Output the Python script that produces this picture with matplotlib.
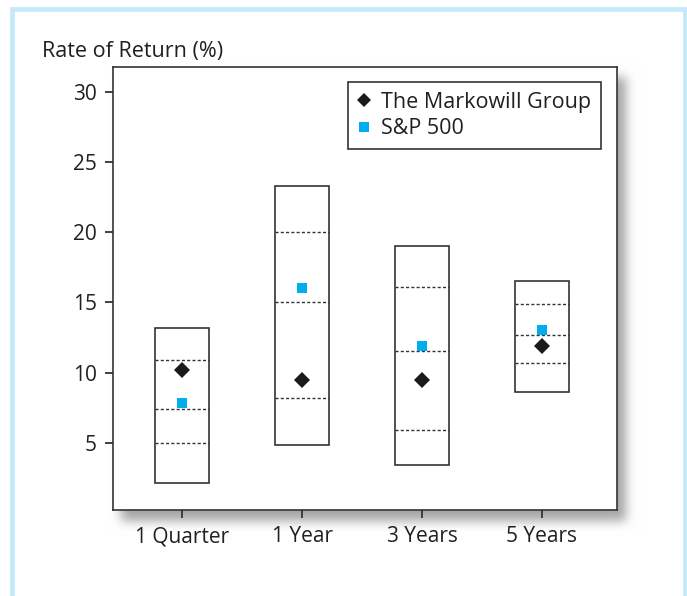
import numpy as np
import matplotlib.pyplot as plt
from matplotlib.patches import Rectangle
from matplotlib.lines import Line2D

# data
periods = ['1 Quarter', '1 Year', '3 Years', '5 Years']
box_low = [2.1, 4.8, 3.4, 8.6]
box_high = [13.2, 23.3, 19.0, 16.5]
q1 = [5.0, 8.2, 5.9, 10.7]
q2 = [7.4, 15.05, 11.55, 12.7]
q3 = [10.9, 20.0, 16.1, 14.9]
markowill = [10.2, 9.5, 9.5, 11.9]
sp500 = [7.85, 16.05, 11.9, 13.0]

plt.rcParams['font.family'] = ['Open Sans', 'DejaVu Sans']
TXT = '#231f20'
EDGE = '#333333'
BLUE = '#00aeef'

W, H = 687, 596
fig = plt.figure(figsize=(W / 100, H / 100), dpi=100)

# axes placement in pixels
ax_l, ax_r, ax_t, ax_b = 113, 617, 67, 510
ax = fig.add_axes([ax_l / W, 1 - ax_b / H, (ax_r - ax_l) / W, (ax_b - ax_t) / H])
ax.set_zorder(3)
ax.set_facecolor('white')

# soft drop shadow behind the axes
yy, xx = np.mgrid[0:H, 0:W]
mask = ((xx >= ax_l + 8) & (xx <= ax_r + 8) & (yy >= ax_t + 10) & (yy <= ax_b + 10)).astype(float)
k = np.ones(9) / 9
for _ in range(4):
    mask = np.apply_along_axis(lambda r: np.convolve(r, k, mode='same'), 1, mask)
    mask = np.apply_along_axis(lambda c: np.convolve(c, k, mode='same'), 0, mask)
shadow = np.ones((H, W, 3)) - mask[..., None] * 0.35
fig.figimage(shadow[::-1], xo=0, yo=0, origin='lower', zorder=0)

# light blue frame round the figure
fig.patches.append(Rectangle((12 / W, -0.05), (684.5 - 12) / W, 1.05 - 8.5 / H,
                             transform=fig.transFigure, fill=False,
                             edgecolor='#c6e8f8', lw=3.4, zorder=1))

x = np.arange(len(periods))
bw = 0.45
for i in range(len(periods)):
    ax.add_patch(Rectangle((x[i] - bw / 2, box_low[i]), bw, box_high[i] - box_low[i],
                           fill=False, edgecolor=EDGE, lw=1.2, zorder=2))
    for q in (q1[i], q2[i], q3[i]):
        ax.plot([x[i] - bw / 2, x[i] + bw / 2], [q, q], color=EDGE, lw=1.0,
                ls=(0, (2.2, 1.6)), zorder=2)

ax.plot(x, markowill, ls='none', marker='D', ms=8, color='#1a1a1a', mew=0, zorder=3)
ax.plot(x, sp500, ls='none', marker='s', ms=7.5, color=BLUE, mew=0, zorder=3)

ax.set_xlim(-0.575, 3.625)
ax.set_ylim(0.19, 31.8)
ax.set_yticks([5, 10, 15, 20, 25, 30])
ax.set_xticks(x)
ax.set_xticklabels(periods)
ax.tick_params(axis='both', direction='out', length=5.8, width=1.3, pad=5.8,
               colors=EDGE, labelcolor=TXT, labelsize=15)
for s in ax.spines.values():
    s.set_color(EDGE)
    s.set_linewidth(1.2)

fig.text(42 / W, 1 - 52 / H, 'Rate of Return (%)', fontsize=15.5, color=TXT, va='center', ha='left')

handles = [Line2D([], [], ls='none', marker='D', ms=7.5, color='#1a1a1a', mew=0),
           Line2D([], [], ls='none', marker='s', ms=7.5, color=BLUE, mew=0)]
leg = ax.legend(handles, ['The Markowill Group', 'S&P 500'], loc='upper right',
                bbox_to_anchor=((601 - ax_l) / (ax_r - ax_l), (ax_b - 82) / (ax_b - ax_t)),
                borderaxespad=0, fancybox=False, framealpha=1, edgecolor=EDGE,
                fontsize=15.5, handlelength=0.6, handletextpad=0.5, labelspacing=0.25,
                borderpad=0.45)
leg.get_frame().set_linewidth(1.2)
for t in leg.get_texts():
    t.set_color(TXT)

fig.savefig('out.png', dpi=100)
